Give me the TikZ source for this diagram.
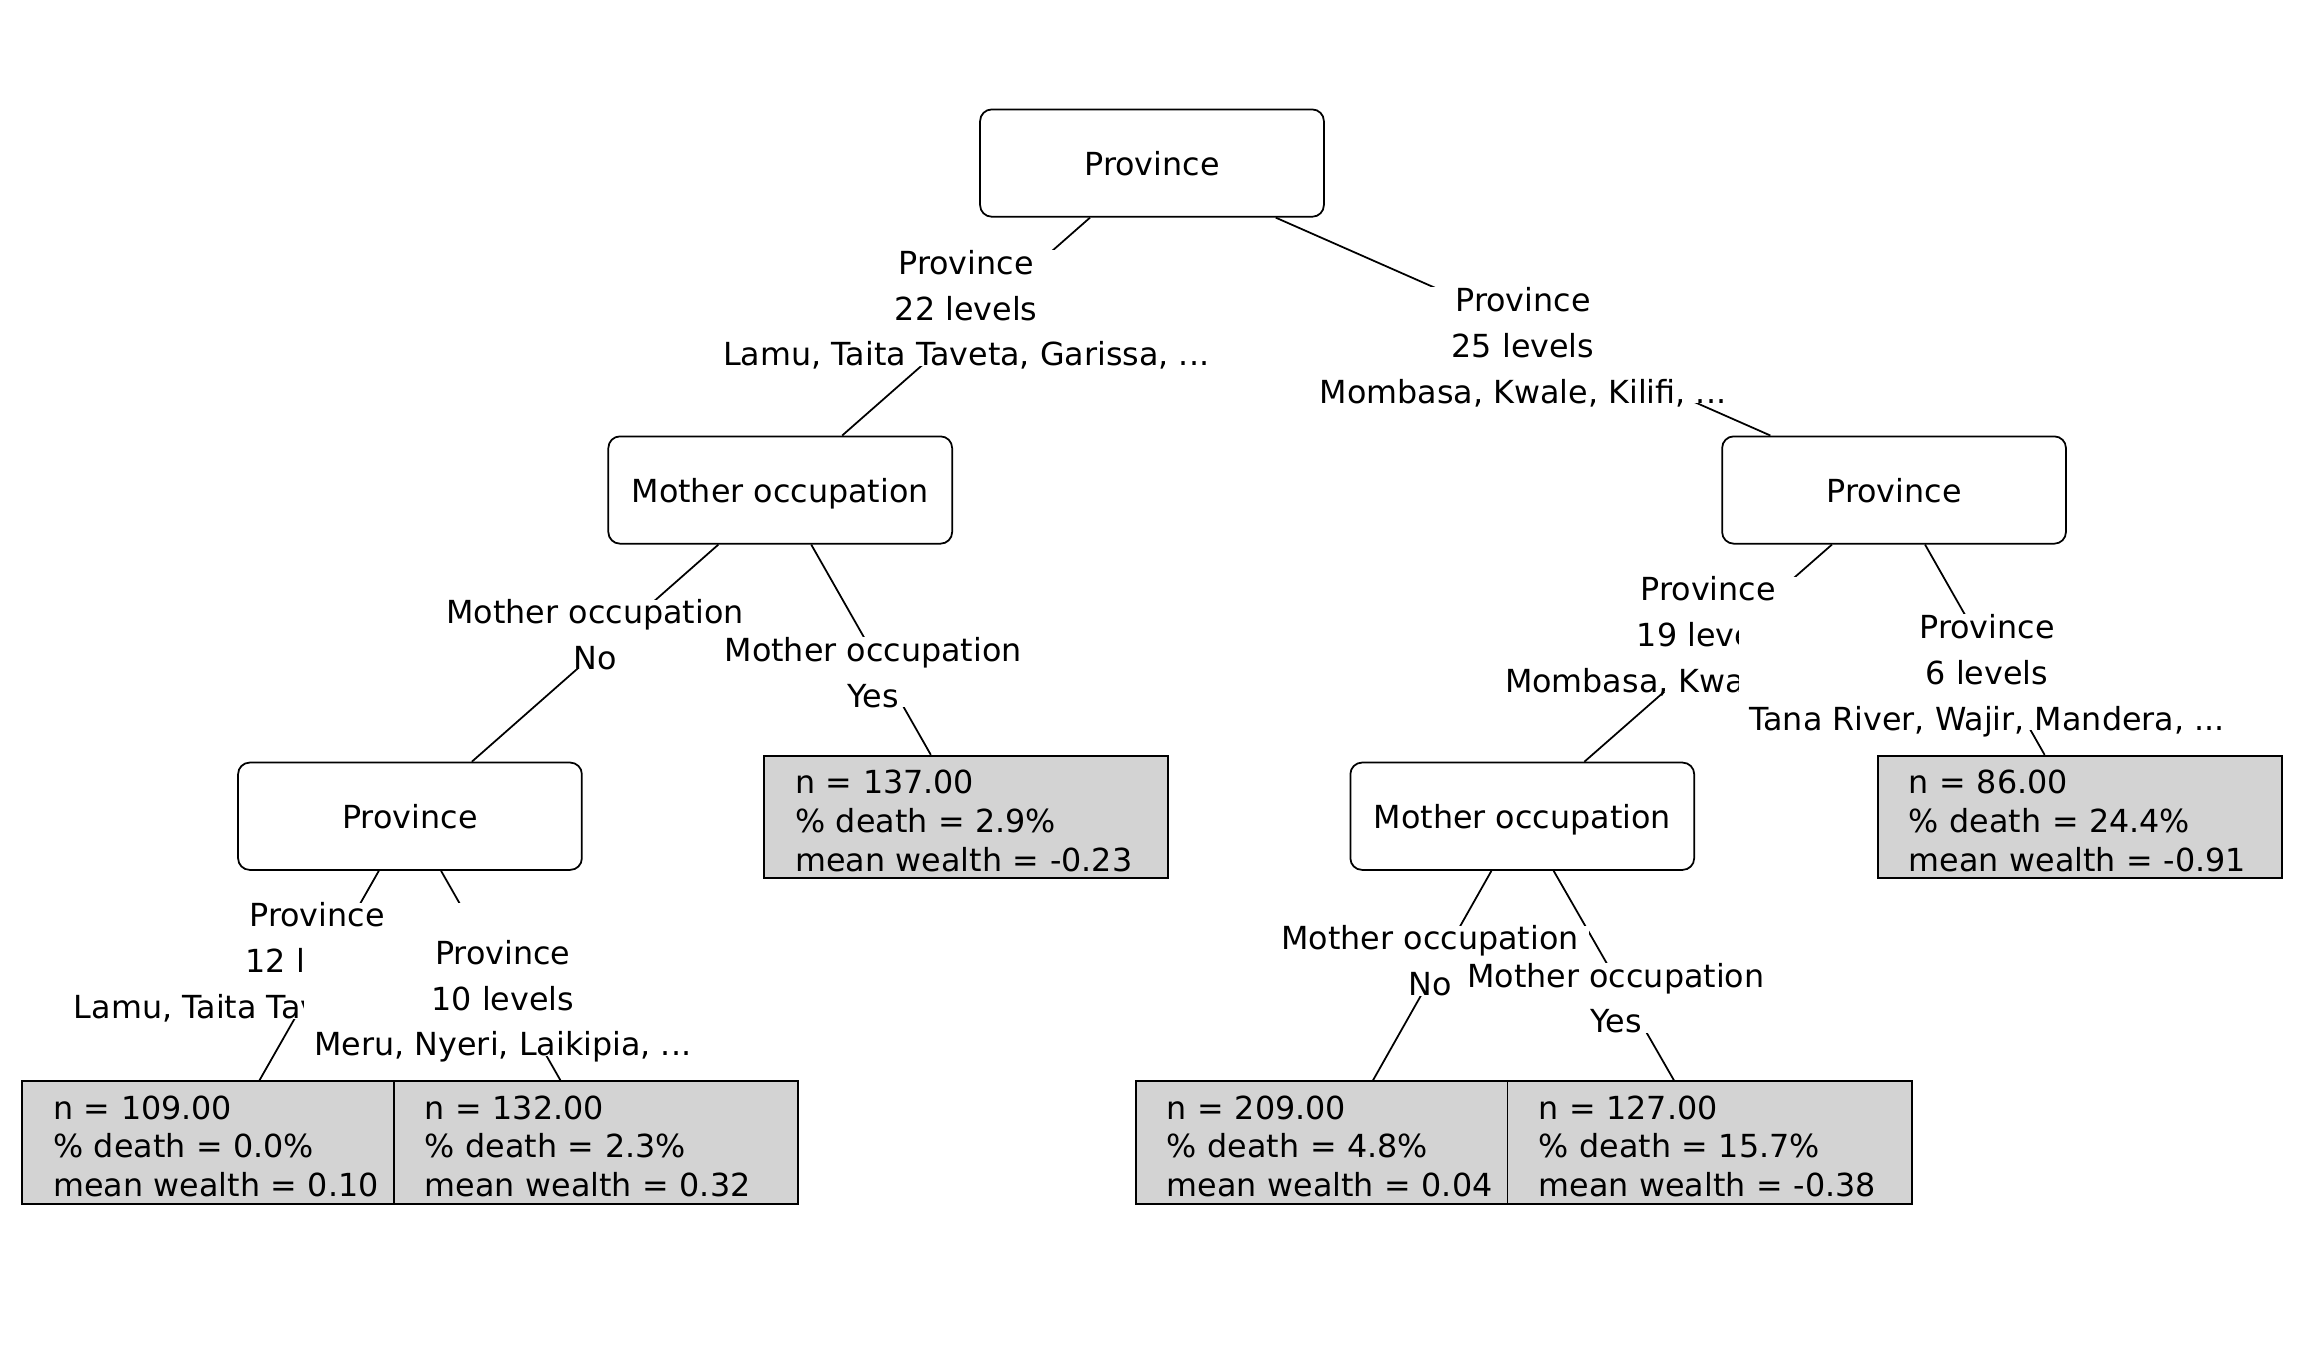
\documentclass[tikz,border=0pt]{standalone}
\usepackage{fontspec}
\setmainfont{DejaVu Sans}
\usepackage{tikz}
\usetikzlibrary{calc}
\definecolor{leafgray}{HTML}{D3D3D3}

\begin{document}
\begin{tikzpicture}[x=0.014694cm, y=-0.014694cm, line width=0.5pt,
    split/.style={draw, rounded corners=3.3pt, fill=white, minimum width=3.438cm, minimum height=1.073cm, text depth=0pt, font=\fontsize{9.04}{11.04}\selectfont},
    leaf/.style={draw, fill=leafgray, minimum width=4.041cm, minimum height=1.225cm, text width=3.42cm, text height=8.9pt, inner xsep=0pt, inner ysep=0pt, align=left, font=\fontsize{9.04}{11.04}\selectfont},
    cond/.style={fill=white, inner xsep=2.9pt, inner ysep=0pt, text depth=0pt, align=center, font=\fontsize{9.04}{13.04}\selectfont}]
        \useasboundingbox (0, 0) rectangle (1568, 915);
        \node[split] (root) at (784, 111) {Province};
        \node[split] (mo1) at (531, 333.5) {Mother occupation};
        \node[split] (pr2) at (1289, 333.5) {Province};
        \node[split] (pr3) at (279, 555.5) {Province};
        \node[split] (mo4) at (1036, 555.5) {Mother occupation};
        \node[leaf] (leaf137) at (657.5, 556) {n = 137.00\\\% death = 2.9\%\\mean wealth = -0.23};
        \node[leaf] (leaf86) at (1415.5, 556) {n = 86.00\\\% death = 24.4\%\\mean wealth = -0.91};
        \node[leaf] (leaf109) at (152.5, 777.5) {n = 109.00\\\% death = 0.0\%\\mean wealth = 0.10};
        \node[leaf] (leaf132) at (405.5, 777.5) {n = 132.00\\\% death = 2.3\%\\mean wealth = 0.32};
        \node[leaf] (leaf209) at (910.5, 777.5) {n = 209.00\\\% death = 4.8\%\\mean wealth = 0.04};
        \node[leaf] (leaf127) at (1163.5, 777.5) {n = 127.00\\\% death = 15.7\%\\mean wealth = -0.38};
        \draw (root) -- (mo1);
        \draw (root) -- (pr2);
        \draw (mo1) -- (pr3);
        \draw (mo1) -- (leaf137);
        \draw (pr2) -- (mo4);
        \draw (pr2) -- (leaf86);
        \draw (pr3) -- (leaf109);
        \draw (pr3) -- (leaf132);
        \draw (mo4) -- (leaf209);
        \draw (mo4) -- (leaf127);
        \node[cond, yshift=5.3pt] at ($(root)!0.5!(mo1)$) {Province\\22 levels\\Lamu, Taita Taveta, Garissa, ...};
        \node[cond, yshift=-5.3pt] at ($(root)!0.5!(pr2)$) {Province\\25 levels\\Mombasa, Kwale, Kilifi, ...};
        \node[cond, yshift=5.3pt] at ($(mo1)!0.5!(pr3)$) {Mother occupation\\No};
        \node[cond, yshift=-5.3pt] at ($(mo1)!0.5!(leaf137)$) {Mother occupation\\Yes};
        \node[cond, yshift=5.3pt] at ($(pr2)!0.5!(mo4)$) {Province\\19 levels\\Mombasa, Kwale, Kilifi, ...};
        \node[cond, yshift=-5.3pt] at ($(pr2)!0.5!(leaf86)$) {Province\\6 levels\\Tana River, Wajir, Mandera, ...};
        \node[cond, yshift=5.3pt] at ($(pr3)!0.5!(leaf109)$) {Province\\12 levels\\Lamu, Taita Taveta, Garissa, ...};
        \node[cond, yshift=-5.3pt] at ($(pr3)!0.5!(leaf132)$) {Province\\10 levels\\Meru, Nyeri, Laikipia, ...};
        \node[cond, yshift=5.3pt] at ($(mo4)!0.5!(leaf209)$) {Mother occupation\\No};
        \node[cond, yshift=-5.3pt] at ($(mo4)!0.5!(leaf127)$) {Mother occupation\\Yes};
\end{tikzpicture}
\end{document}
